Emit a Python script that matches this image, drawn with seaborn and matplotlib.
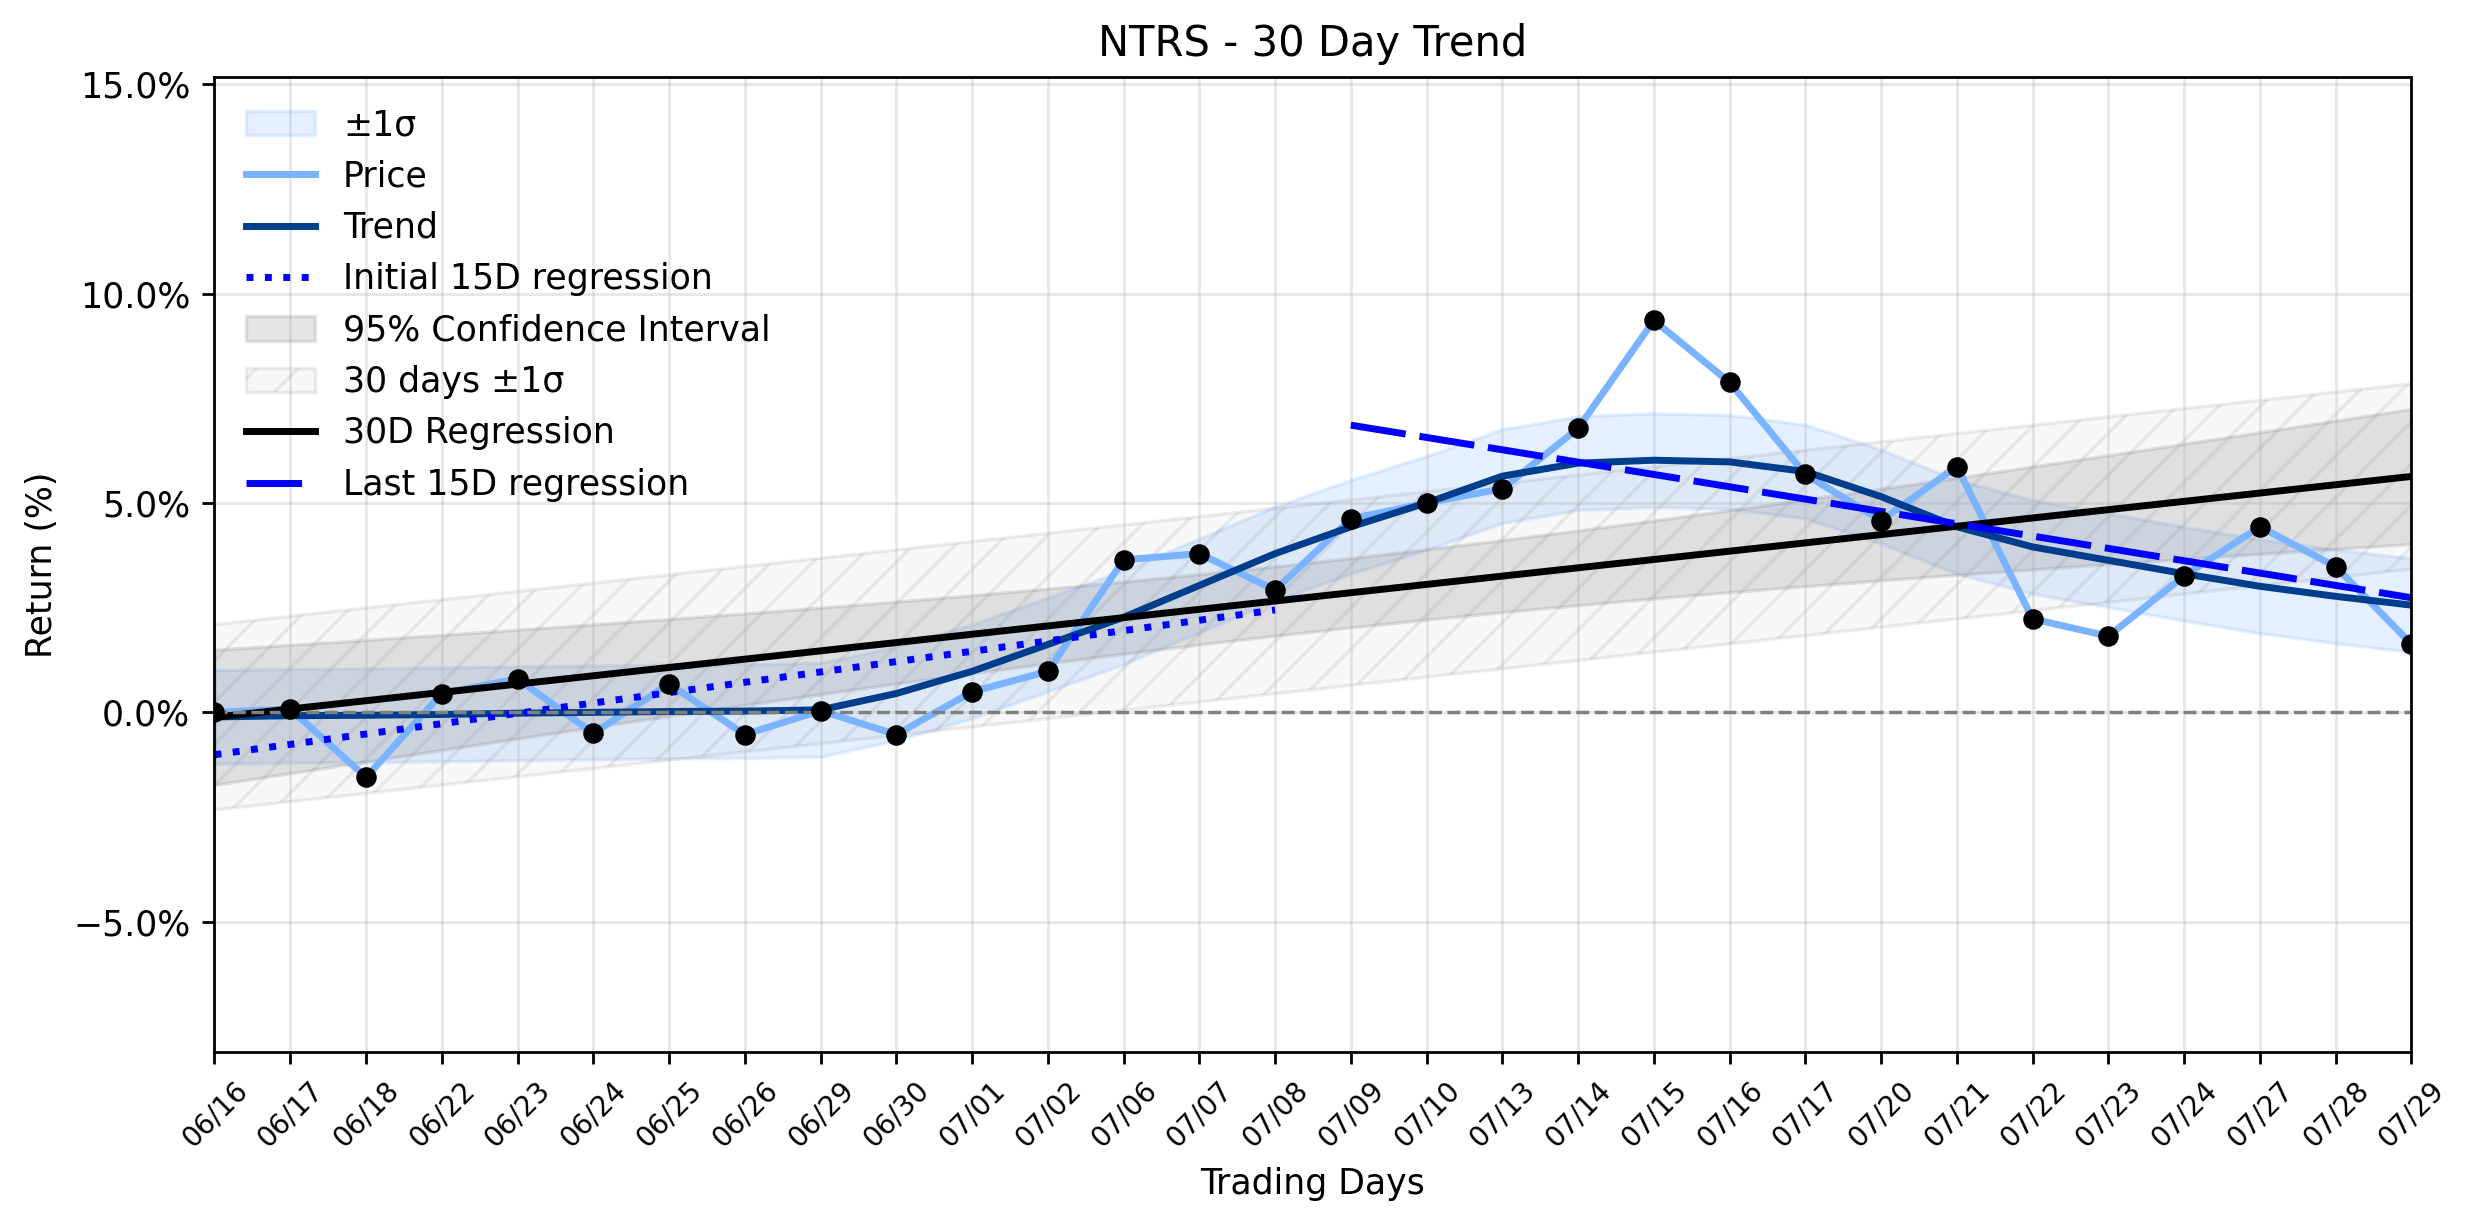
import numpy as np
import seaborn as sns
import matplotlib.pyplot as plt
import matplotlib.ticker as mticker

# ---- Data ----
TICKER = "NTRS"
dates = ["06/16", "06/17", "06/18", "06/22", "06/23", "06/24", "06/25", "06/26",
         "06/29", "06/30", "07/01", "07/02", "07/06", "07/07", "07/08", "07/09",
         "07/10", "07/13", "07/14", "07/15", "07/16", "07/17", "07/20", "07/21",
         "07/22", "07/23", "07/24", "07/27", "07/28", "07/29"]
price = [0.00, 0.08, -1.55, 0.45, 0.80, -0.50, 0.68, -0.53, 0.04, -0.53,
         0.49, 0.98, 3.64, 3.79, 2.92, 4.62, 5.00, 5.34, 6.78, 9.36,
         7.88, 5.68, 4.58, 5.87, 2.23, 1.82, 3.26, 4.43, 3.48, 1.63]
trend = [-0.11, -0.08, -0.07, -0.05, -0.02, 0.00, 0.02, 0.03, 0.06, 0.45,
         0.98, 1.62, 2.27, 3.03, 3.79, 4.43, 5.00, 5.64, 5.95, 6.02,
         5.98, 5.75, 5.15, 4.43, 3.95, 3.63, 3.31, 3.01, 2.77, 2.56]
trend_sigma = 1.12
T_95 = 2.048  # t value, 28 dof

PRICE_C = "#7ab3ff"
TREND_C = "#003d8c"

x = np.arange(len(dates))
p = np.array(price)
tr = np.array(trend)

# ---- 30D regression + bands ----
n = len(x)
slope, icpt = np.polyfit(x, p, 1)
reg = icpt + slope * x
s = np.sqrt(np.sum((p - reg) ** 2) / (n - 2))
sxx = np.sum((x - x.mean()) ** 2)
ci = T_95 * s * np.sqrt(1 / n + (x - x.mean()) ** 2 / sxx)

# ---- 15D regressions ----
xa, xb = x[:15], x[15:]
sa, ia = np.polyfit(xa, p[:15], 1)
sb, ib = np.polyfit(xb, p[15:], 1)

# ---- Plot ----
fig, ax = plt.subplots(figsize=(9.896, 4.896), dpi=250)
fig.subplots_adjust(left=0.0867, right=0.9747, top=0.9371, bottom=0.1405)

ax.fill_between(x, tr - trend_sigma, tr + trend_sigma, color=PRICE_C, alpha=0.2, label="±1σ")
sns.lineplot(x=x, y=p, color=PRICE_C, lw=2, label="Price", ax=ax)
sns.lineplot(x=x, y=tr, color=TREND_C, lw=2, label="Trend", ax=ax)
sns.lineplot(x=xa, y=ia + sa * xa, color="blue", lw=2, linestyle=":",
             label="Initial 15D regression", ax=ax)
ax.fill_between(x, reg - ci, reg + ci, color="gray", alpha=0.2,
                label="95% Confidence Interval")
ax.fill_between(x, reg - s, reg + s, facecolor=(0.5, 0.5, 0.5, 0.05),
                edgecolor=(0.5, 0.5, 0.5, 0.14), hatch="//", label="30 days ±1σ")
sns.lineplot(x=x, y=reg, color="black", lw=2, label="30D Regression", ax=ax)
sns.lineplot(x=xb, y=ib + sb * xb, color="blue", lw=2, linestyle=(0, (8, 2)),
             label="Last 15D regression", ax=ax)
ax.axhline(0, color="gray", linestyle="--", lw=1)
sns.scatterplot(x=x, y=p, color="black", s=30, edgecolor="black", zorder=5,
                ax=ax, legend=False)

ax.set_xlim(0, n - 1)
ax.set_ylim(-8.11, 15.17)
ax.set_xticks(x)
ax.set_xticklabels(dates, rotation=45, fontsize=8)
ax.yaxis.set_major_locator(mticker.MultipleLocator(5))
ax.yaxis.set_major_formatter(mticker.PercentFormatter(decimals=1))
ax.grid(True, alpha=0.3)

ax.set_title(f"{TICKER} - 30 Day Trend", fontsize=12)
ax.set_xlabel("Trading Days")
ax.set_ylabel("Return (%)")

order = ["±1σ", "Price", "Trend", "Initial 15D regression", "95% Confidence Interval",
         "30 days ±1σ", "30D Regression", "Last 15D regression"]
handles, labels = ax.get_legend_handles_labels()
hmap = dict(zip(labels, handles))
ax.legend([hmap[k] for k in order], order, loc="upper left", frameon=False)

plt.savefig("out.png", dpi=250)
plt.close()
